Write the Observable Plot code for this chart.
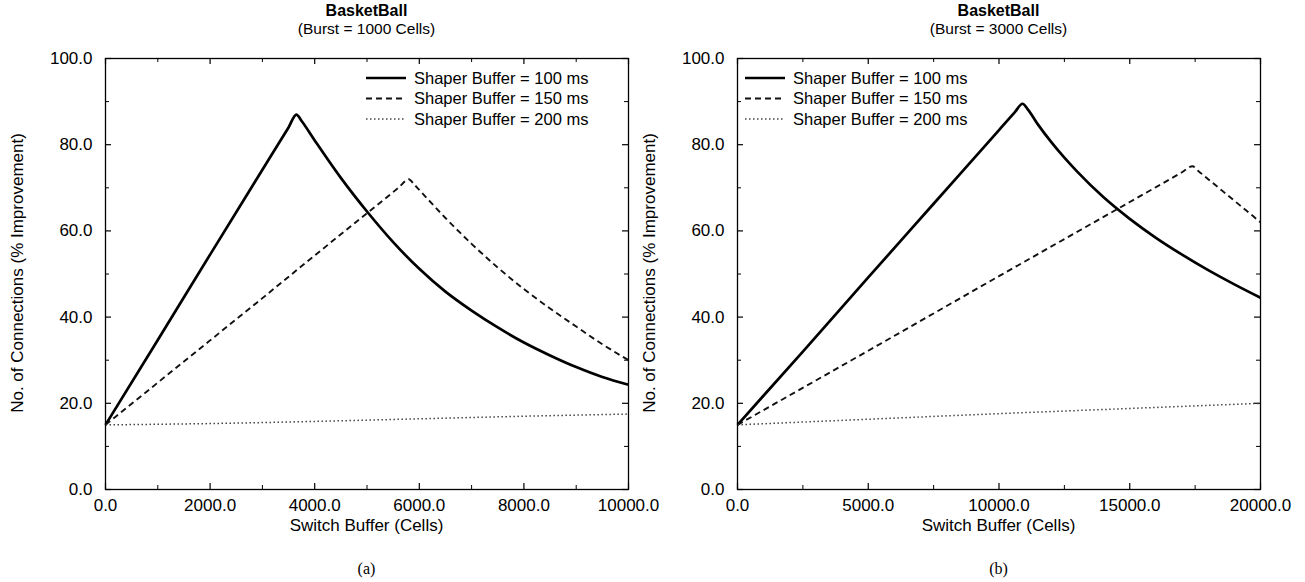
<!DOCTYPE html>
<html>
<head>
<meta charset="utf-8">
<script src="https://cdn.jsdelivr.net/npm/d3@7"></script>
<script src="https://cdn.jsdelivr.net/npm/@observablehq/plot@0.6"></script>
<style>
  body { margin: 0; background: #fff; }
  #root { position: relative; width: 1305px; height: 582px; overflow: hidden;
          font-family: "Liberation Sans", Arial, Helvetica, sans-serif; color: #000; }
  .panel { position: absolute; top: 0; width: 652px; height: 582px; }
  .panel svg.plot { position: absolute; left: 0; top: 0; overflow: visible; }
  .title { position: absolute; left: 105px; width: 523px; text-align: center; font-weight: bold; font-size: 16px; top: 2px; }
  .subtitle { position: absolute; left: 105px; width: 523px; text-align: center; font-size: 15.5px; top: 20px; }
  .xlabel { position: absolute; left: 105px; width: 523px; text-align: center; font-size: 17px; top: 516px; }
  .caption { position: absolute; left: 105px; width: 523px; text-align: center; font-size: 16px; top: 560px;
             font-family: "Liberation Serif", "Times New Roman", serif; }
  .ylabel { position: absolute; left: 18px; top: 273px; font-size: 17px; white-space: nowrap;
            transform: translate(-50%, -50%) rotate(-90deg); }
  .legend { position: absolute; overflow: visible; }
</style>
</head>
<body>
<div id="root"></div>
<script>
// ---------- data ----------
const seriesNames = ["Shaper Buffer = 100 ms", "Shaper Buffer = 150 ms", "Shaper Buffer = 200 ms"];
const yTicks = [0, 20, 40, 60, 80, 100];
const yMinor = [10, 30, 50, 70, 90];

// Panel (a): Burst = 1000 Cells
const xTicksA = [0, 2000, 4000, 6000, 8000, 10000];
const xMinorA = [1000, 3000, 5000, 7000, 9000];
const a100 = [[0,15],[1000,34.7],[2000,54.5],[3000,74.2],[3500,84],[3650,87],[3750,85.5],[4000,81],[4500,72.3],[5000,64.5],[5500,57.4],[6000,51.2],[6500,45.9],[7000,41.5],[7500,37.6],[8000,34.1],[8500,31.1],[9000,28.4],[9500,26.1],[10000,24.3]];
const a150 = [[0,15],[1000,24.8],[2000,34.6],[3000,44.4],[4000,54.3],[5000,64.1],[5600,70],[5800,72],[5900,70.8],[6000,69.5],[6500,63],[7000,57],[7500,51.5],[8000,46.5],[8500,42],[9000,37.8],[9500,33.7],[10000,30]];
const a200 = [[0,15],[2000,15.3],[4000,15.8],[6000,16.4],[8000,17],[10000,17.5]];

// Panel (b): Burst = 3000 Cells
const xTicksB = [0, 5000, 10000, 15000, 20000];
const xMinorB = [2500, 7500, 12500, 17500];
const b100 = [[0,15],[2500,32],[5000,49.2],[7500,66.3],[10000,83.4],[10600,87.5],[10900,89.5],[11100,88.2],[11500,84.6],[12000,80.6],[12500,77],[13000,73.7],[14000,67.8],[15000,62.8],[16000,58.4],[17000,54.5],[18000,50.9],[19000,47.6],[20000,44.5]];
const b150 = [[0,15],[5000,32.2],[10000,49.5],[15000,66.7],[17000,73.6],[17400,75],[17600,74],[18000,72],[18500,69.5],[19000,67],[19500,64.5],[20000,62]];
const b200 = [[0,15],[5000,16.3],[10000,17.6],[15000,18.8],[20000,20]];

const panels = [
  {left: 0, title: "BasketBall", subtitle: "(Burst = 1000 Cells)", caption: "(a)", xMax: 10000,
   xTicks: xTicksA, xMinor: xMinorA, series: [a100, a150, a200], legendLeft: 366},
  {left: 632, title: "BasketBall", subtitle: "(Burst = 3000 Cells)", caption: "(b)", xMax: 20000,
   xTicks: xTicksB, xMinor: xMinorB, series: [b100, b150, b200], legendLeft: 113}
];

const styles = [
  {stroke: "#000", strokeWidth: 2.7, strokeDasharray: null},
  {stroke: "#111", strokeWidth: 1.9, strokeDasharray: "6,4"},
  {stroke: "#444", strokeWidth: 1.5, strokeDasharray: "1.5,2.5"}
];

// ---------- layout ----------
const W = 652, H = 540, mL = 105, mR = 24, mT = 58, mB = 51;
const root = document.getElementById("root");
const fmt = d => d.toFixed(1);

for (const p of panels) {
  const div = document.createElement("div");
  div.className = "panel";
  div.style.left = p.left + "px";
  root.appendChild(div);

  const pxX = p.xMax / (W - mL - mR);   // data units per pixel (x)
  const pxY = 100 / (H - mT - mB);      // data units per pixel (y)
  const majX = 6 * pxX, minX = 4 * pxX, majY = 6 * pxY, minY = 4 * pxY;

  const lineMarks = p.series.map((s, i) =>
    Plot.line(s, {x: d => d[0], y: d => d[1], ...styles[i], curve: "monotone-x", strokeLinejoin: "round", strokeLinecap: "butt"}));

  const chart = Plot.plot({
    width: W, height: H,
    marginLeft: mL, marginRight: mR, marginTop: mT, marginBottom: mB,
    x: {domain: [0, p.xMax]},
    y: {domain: [0, 100]},
    style: {fontFamily: "'Liberation Sans', Arial, Helvetica, sans-serif", fontSize: "17px", color: "#000", background: "transparent", overflow: "visible"},
    marks: [
      // inward ticks on all four sides
      Plot.ruleX(p.xTicks, {x: d => d, y1: 0, y2: majY, stroke: "#000", strokeWidth: 1.2}),
      Plot.ruleX(p.xMinor, {x: d => d, y1: 0, y2: minY, stroke: "#000", strokeWidth: 1}),
      Plot.ruleX(p.xTicks, {x: d => d, y1: 100, y2: 100 - majY, stroke: "#000", strokeWidth: 1.2}),
      Plot.ruleX(p.xMinor, {x: d => d, y1: 100, y2: 100 - minY, stroke: "#000", strokeWidth: 1}),
      Plot.ruleY(yTicks, {y: d => d, x1: 0, x2: majX, stroke: "#000", strokeWidth: 1.2}),
      Plot.ruleY(yMinor, {y: d => d, x1: 0, x2: minX, stroke: "#000", strokeWidth: 1}),
      Plot.ruleY(yTicks, {y: d => d, x1: p.xMax, x2: p.xMax - majX, stroke: "#000", strokeWidth: 1.2}),
      Plot.ruleY(yMinor, {y: d => d, x1: p.xMax, x2: p.xMax - minX, stroke: "#000", strokeWidth: 1}),
      Plot.axisX({ticks: p.xTicks, tickSize: 0, tickPadding: 9, tickFormat: fmt, label: null, fontSize: 17}),
      Plot.axisY({ticks: yTicks, tickSize: 0, tickPadding: 13, tickFormat: fmt, label: null, fontSize: 17}),
      ...lineMarks,
      Plot.frame({stroke: "#000", strokeWidth: 1.3})
    ]
  });
  chart.classList.add("plot");
  div.appendChild(chart);

  const add = (cls, text) => {
    const e = document.createElement("div");
    e.className = cls; e.textContent = text; div.appendChild(e); return e;
  };
  add("title", p.title);
  add("subtitle", p.subtitle);
  add("xlabel", "Switch Buffer (Cells)");
  add("caption", p.caption);
  add("ylabel", "No. of Connections (% Improvement)");

  // legend
  const lg = d3.select(div).append("svg").attr("class", "legend")
    .attr("width", 250).attr("height", 70)
    .style("left", p.legendLeft + "px").style("top", "68px");
  seriesNames.forEach((name, i) => {
    const y = 10 + i * 20.5;
    const st = styles[i];
    lg.append("line").attr("x1", 0).attr("x2", 40).attr("y1", y).attr("y2", y)
      .attr("stroke", st.stroke).attr("stroke-width", st.strokeWidth)
      .attr("stroke-dasharray", st.strokeDasharray);
    lg.append("text").attr("x", 48).attr("y", y).attr("dy", "0.35em")
      .attr("font-size", 16.5).attr("font-family", "'Liberation Sans', Arial, sans-serif")
      .text(name);
  });
}
</script>
</body>
</html>
